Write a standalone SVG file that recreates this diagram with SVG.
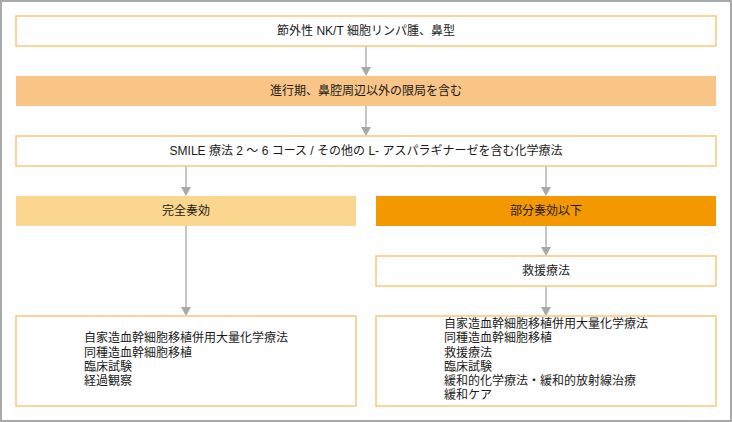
<svg xmlns="http://www.w3.org/2000/svg" width="732" height="422" viewBox="0 0 732 422">
<defs>
<style>
text{font-family:"Liberation Sans","Noto Sans CJK JP",sans-serif;font-size:12px;fill:#1a1a1a;dominant-baseline:central}
.c{text-anchor:middle}
.wb{fill:#fff;stroke:#f9c878;stroke-width:1.5}
.ln{stroke:#c6c6c6;stroke-width:2;fill:none}
.ah{fill:#a8a8a8}
</style>
</defs>
<rect x="1" y="1" width="730" height="420" fill="#fff" stroke="#a9a9a9" stroke-width="2"/>
<g id="connectors">
<line class="ln" x1="366" y1="46" x2="366" y2="68"/><polygon class="ah" points="361,67 371,67 366,76"/>
<line class="ln" x1="366" y1="106" x2="366" y2="128"/><polygon class="ah" points="361,127 371,127 366,136"/>
<line class="ln" x1="186" y1="166" x2="186" y2="188"/><polygon class="ah" points="181,187 191,187 186,196"/>
<line class="ln" x1="546" y1="166" x2="546" y2="188"/><polygon class="ah" points="541,187 551,187 546,196"/>
<line class="ln" x1="546" y1="226" x2="546" y2="248"/><polygon class="ah" points="541,247 551,247 546,256"/>
<line class="ln" x1="186" y1="226" x2="186" y2="308"/><polygon class="ah" points="181,307 191,307 186,316"/>
<line class="ln" x1="546" y1="286" x2="546" y2="308"/><polygon class="ah" points="541,307 551,307 546,316"/>
</g>
<g id="n1"><rect class="wb" x="16" y="16" width="700" height="30"/><text class="c" x="366" y="31">節外性 NK/T 細胞リンパ腫、鼻型</text></g>
<g id="n2"><rect x="16" y="76" width="700" height="30" fill="#f8c587"/><text class="c" x="366" y="91">進行期、鼻腔周辺以外の限局を含む</text></g>
<g id="n3"><rect class="wb" x="16" y="136" width="700" height="30"/><text class="c" x="366" y="151">SMILE 療法 2 ～ 6 コース / その他の L- アスパラギナーゼを含む化学療法</text></g>
<g id="n4"><rect x="16" y="196" width="340" height="30" fill="#fad68e"/><text class="c" x="186" y="211">完全奏効</text></g>
<g id="n5"><rect x="376" y="196" width="340" height="30" fill="#f39800"/><text class="c" x="546" y="211">部分奏効以下</text></g>
<g id="n6"><rect class="wb" x="376" y="256" width="340" height="30"/><text class="c" x="546" y="271">救援療法</text></g>
<g id="n7"><rect class="wb" x="16" y="316" width="340" height="90"/>
<text x="84" y="338.3"><tspan x="84">自家造血幹細胞移植併用大量化学療法</tspan><tspan x="84" dy="14.3">同種造血幹細胞移植</tspan><tspan x="84" dy="14.2">臨床試験</tspan><tspan x="84" dy="14.2">経過観察</tspan></text>
</g>
<g id="n8"><rect class="wb" x="376" y="316" width="340" height="90"/>
<text x="444" y="324"><tspan x="444">自家造血幹細胞移植併用大量化学療法</tspan><tspan x="444" dy="14.3">同種造血幹細胞移植</tspan><tspan x="444" dy="14.3">救援療法</tspan><tspan x="444" dy="14.1">臨床試験</tspan><tspan x="444" dy="14.2">緩和的化学療法・緩和的放射線治療</tspan><tspan x="444" dy="14">緩和ケア</tspan></text>
</g>
</svg>
